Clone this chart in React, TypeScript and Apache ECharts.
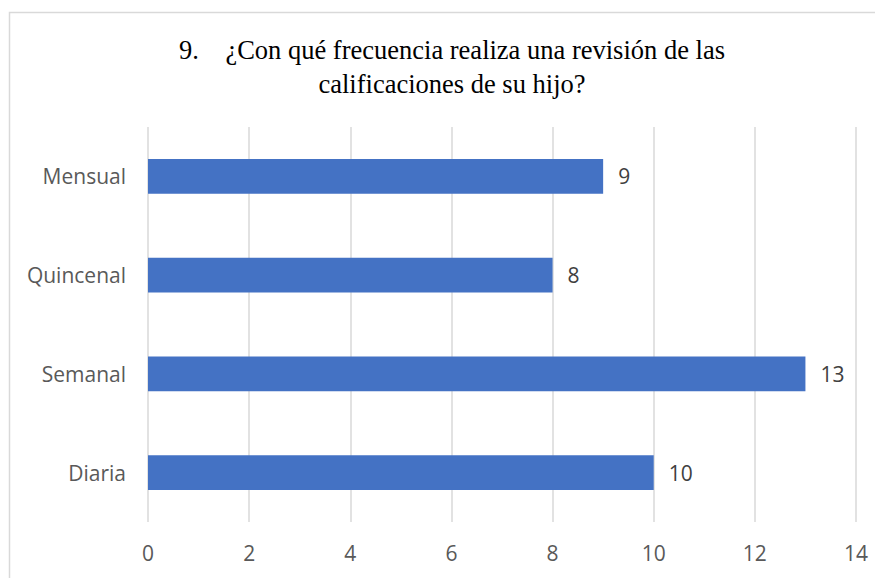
import React, { useEffect, useRef } from "react";
import * as echarts from "echarts";

const categories = ["Diaria", "Semanal", "Quincenal", "Mensual"];
const values = [10, 13, 8, 9];
const titleLine1 = "9.\u00a0\u00a0\u00a0\u00a0¿Con qué frecuencia realiza una revisión de las";
const titleLine2 = "calificaciones de su hijo?";

export default function App() {
  const ref = useRef<HTMLDivElement>(null);
  useEffect(() => {
    if (!ref.current) return;
    const chart = echarts.init(ref.current, null, { renderer: "svg" });
    chart.setOption({
      animation: false,
      backgroundColor: "#ffffff",
      graphic: [
        {
          type: "rect",
          shape: { x: 1.5, y: 4.5, width: 900, height: 700 },
          style: { fill: "none", stroke: "#d9d9d9", lineWidth: 1.5 },
          silent: true,
        },
        {
          type: "text",
          x: 444,
          y: 59,
          style: {
            text: titleLine1 + "\n" + titleLine2,
            fontFamily: "Liberation Serif",
            fontSize: 26.5,
            lineHeight: 34,
            fill: "#000000",
            align: "center",
            verticalAlign: "middle",
          },
        },
      ],
      grid: { left: 140, right: 27, top: 119, bottom: 56, containLabel: false },
      xAxis: {
        type: "value",
        min: 0,
        max: 14,
        interval: 2,
        axisLine: { show: false },
        axisTick: { show: false },
        splitLine: { lineStyle: { color: "#d9d9d9", width: 1.5 } },
        axisLabel: {
          color: "#595959",
          fontFamily: "Open Sans",
          fontSize: 21,
          margin: 20,
        },
      },
      yAxis: {
        type: "category",
        data: categories,
        axisLine: { show: false },
        axisTick: { show: false },
        axisLabel: {
          color: "#595959",
          fontFamily: "Open Sans",
          fontSize: 21,
          margin: 22,
        },
      },
      series: [
        {
          type: "bar",
          data: values,
          barWidth: "35%",
          itemStyle: { color: "#4472C4" },
          label: {
            show: true,
            position: "right",
            distance: 15,
            color: "#404040",
            fontFamily: "Open Sans",
            fontSize: 21,
          },
        },
      ],
    });
    return () => chart.dispose();
  }, []);
  return <div ref={ref} style={{ width: 875, height: 570 }} />;
}
